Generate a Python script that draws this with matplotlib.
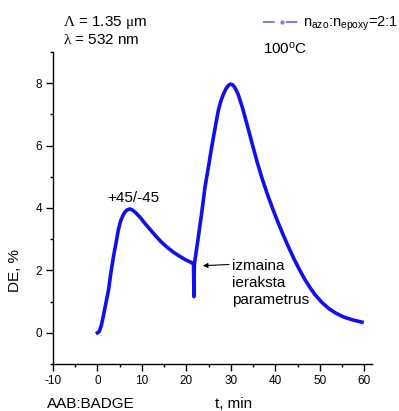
import matplotlib
matplotlib.use('Agg')
import matplotlib.pyplot as plt
from matplotlib.lines import Line2D
from matplotlib.ticker import MultipleLocator

plt.rcParams['font.family'] = ['Liberation Sans', 'DejaVu Sans']
plt.rcParams['mathtext.fontset'] = 'custom'
plt.rcParams['mathtext.rm'] = 'Liberation Sans'
plt.rcParams['mathtext.it'] = 'Liberation Sans'
plt.rcParams['mathtext.cal'] = 'Liberation Serif'
plt.rcParams['axes.unicode_minus'] = False

# diffraction efficiency
t_min = [0.0, 0.4, 0.9, 1.3, 1.9, 2.5, 3.0, 3.6, 4.2, 4.7, 5.2, 5.8, 6.2, 6.7,
         7.3, 7.9, 8.6, 9.6, 10.7, 11.8, 13.0, 14.3, 15.6, 17.0, 18.4, 19.8,
         21.0, 21.6, 21.7, 21.8, 22.7, 23.5, 24.2, 25.0, 25.7, 26.5, 27.2,
         27.8, 28.4, 28.9, 29.4, 29.9, 30.4, 30.9, 31.4, 31.7, 32.6, 33.6,
         34.8, 35.9, 37.0, 38.2, 39.4, 40.6, 41.8, 43.0, 44.2, 45.4, 46.6,
         47.8, 49.0, 50.5, 52.0, 53.6, 55.3, 57.2, 59.5]
de_pct = [0.0, 0.04, 0.25, 0.52, 0.95, 1.38, 1.9, 2.44, 2.9, 3.30, 3.58, 3.78,
          3.87, 3.94, 3.97, 3.93, 3.85, 3.70, 3.50, 3.32, 3.12, 2.92, 2.75,
          2.59, 2.46, 2.34, 2.26, 2.21, 1.16, 2.20, 3.08, 3.90, 4.68, 5.35,
          5.96, 6.60, 7.14, 7.45, 7.67, 7.82, 7.92, 7.97, 7.95, 7.86, 7.72,
          7.62, 7.22, 6.70, 6.06, 5.48, 4.96, 4.45, 3.98, 3.54, 3.13, 2.74,
          2.37, 2.03, 1.72, 1.45, 1.21, 0.97, 0.78, 0.63, 0.51, 0.42, 0.34]

x_ticks = [-10, 0, 10, 20, 30, 40, 50, 60]
y_ticks = [0, 2, 4, 6, 8]

fig = plt.figure(figsize=(3.99, 4.11), dpi=100)
ax = fig.add_axes([0.1328, 0.1144, 0.799, 0.7591])

ax.plot(t_min, de_pct, color='#1010ee', lw=2.6, solid_joinstyle='round')

ax.set_xlim(-10, 61.7)
ax.set_ylim(-1, 9)
ax.set_xticks(x_ticks)
ax.set_yticks(y_ticks)
ax.xaxis.set_minor_locator(MultipleLocator(5))
ax.yaxis.set_minor_locator(MultipleLocator(1))
ax.tick_params(which='major', length=4.8, width=1, labelsize=8.5, pad=3)
ax.tick_params(which='minor', length=2.4, width=1)
for side in ['top', 'right']:
    ax.spines[side].set_visible(False)
for side in ['left', 'bottom']:
    ax.spines[side].set_linewidth(1)

ax.text(2.1, 4.19, '+45/-45', fontsize=11, va='baseline')
ax.annotate('izmaina\nieraksta\nparametrus', xy=(23.7, 2.15), xytext=(30.2, 2.38),
            fontsize=11, va='top', ha='left', linespacing=1.3,
            arrowprops=dict(arrowstyle='-|>', color='black', lw=0.8,
                            mutation_scale=7, relpos=(0, 0.88), shrinkA=0, shrinkB=0))

fig.text(15 / 399, 1 - 270 / 411, 'DE, %', rotation=90, ha='center', va='center', fontsize=11)
fig.text(47 / 399, 1 - 404 / 411, 'AAB:BADGE', ha='left', va='center', fontsize=11)
fig.text(234 / 399, 1 - 404 / 411, 't, min', ha='center', va='center', fontsize=11)

fig.text(63 / 399, 1 - 26 / 411, r'$\mathcal{\Lambda}$ = 1.35 $\mathcal{\mu}$m',
         ha='left', va='baseline', fontsize=11)
fig.text(63 / 399, 1 - 44 / 411, r'$\mathcal{\lambda}$ = 532 nm',
         ha='left', va='baseline', fontsize=11)
fig.text(263 / 399, 1 - 54 / 411, r'100$^{\rm o}$C', ha='left', va='baseline', fontsize=11)

proxy = Line2D([], [], color='#7f7fe0', lw=1.5, ls=(0, (5.5, 5.5)), marker='.', markersize=4)
fig.legend(handles=[proxy], labels=[r'n$_{\rm azo}$:n$_{\rm epoxy}$=2:1'],
           loc='upper left', bbox_to_anchor=(263 / 399, 1 - 15 / 411),
           frameon=False, borderpad=0, borderaxespad=0, fontsize=10.5,
           handlelength=2.55, handletextpad=0.2)

fig.savefig('out.png', dpi=100)
